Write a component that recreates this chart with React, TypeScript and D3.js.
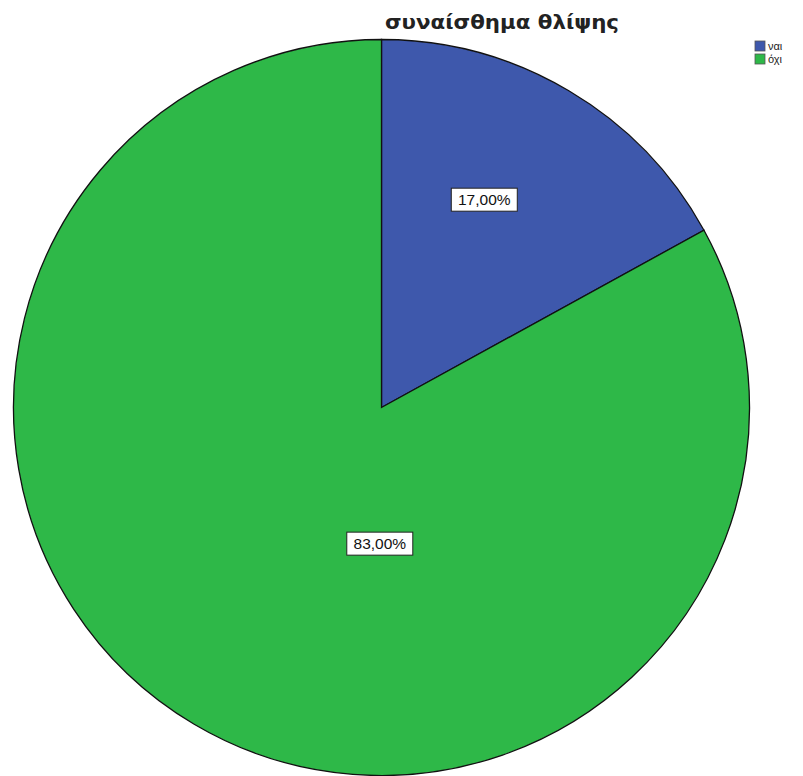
import React from "react";
import * as d3 from "d3";

const categories = ["ναι", "όχι"];
const values = [17, 83];
const labels = ["17,00%", "83,00%"];
const colors = ["#3E58AC", "#2EB848"];
// label placement: fraction across slice angle, fraction of radius
const labelAngleFrac = [0.43, 0.4];
const labelRadiusFrac = [0.63, 0.37];
const title = "συναίσθημα θλίψης";

export default function App() {
  const W = 803, H = 776;
  const cx = 381.5, cy = 407.5, r = 368;
  const pie = d3.pie<number>().sort(null).value((d) => d);
  const arcs = pie(values);
  const arc = d3.arc<d3.PieArcDatum<number>>().innerRadius(0).outerRadius(r);
  return (
    <svg width={W} height={H} style={{ position: "absolute", left: 0, top: 0, background: "#fff" }}>
      <text x={502} y={29} textAnchor="middle" textLength={234} lengthAdjust="spacingAndGlyphs" fontFamily="DejaVu Sans, Verdana, sans-serif" fontWeight="bold" fontSize={19} fill="#222">{title}</text>
      <g transform={`translate(${cx},${cy})`}>
        {arcs.map((a, i) => (
          <path key={i} d={arc(a) || ""} fill={colors[i]} stroke="#111" strokeWidth={1.3} />
        ))}
        {arcs.map((a, i) => {
          const ang = a.startAngle + (a.endAngle - a.startAngle) * labelAngleFrac[i];
          const rr = r * labelRadiusFrac[i];
          const x = rr * Math.sin(ang);
          const y = -rr * Math.cos(ang);
          return (
            <g key={"l" + i} transform={`translate(${x},${y})`}>
              <rect x={-33} y={-11.5} width={66} height={23} fill="#fff" stroke="#222" strokeWidth={1} />
              <text x={0} y={5.5} textAnchor="middle" fontFamily="Liberation Sans, Arial, sans-serif" fontSize={15.5} fill="#111">{labels[i]}</text>
            </g>
          );
        })}
      </g>
      {categories.map((c, i) => (
        <g key={"lg" + i} transform={`translate(755,${41 + i * 13})`}>
          <rect x={0} y={0} width={10} height={10} fill={colors[i]} stroke="#555" strokeWidth={0.8} />
          <text x={13} y={9} fontFamily="Liberation Sans, Arial, sans-serif" fontSize={11} fill="#222">{c}</text>
        </g>
      ))}
    </svg>
  );
}
